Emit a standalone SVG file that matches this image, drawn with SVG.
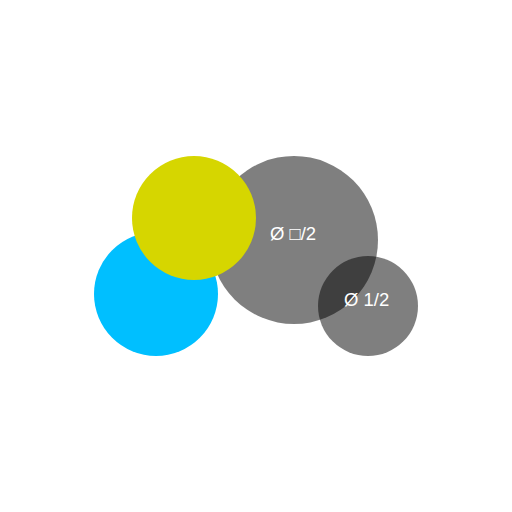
<svg xmlns="http://www.w3.org/2000/svg" width="512" height="512" viewBox="0 0 512 512">
<style>
.g{fill:#000;fill-opacity:0.5}
.t{fill:#fff;font-family:"Liberation Sans",Arial,sans-serif;font-size:18.5px}
</style>
<rect width="512" height="512" fill="#fff"/>
<g id="big"><circle class="g" cx="294" cy="240" r="84"/><text class="t" x="270" y="240">Ø □/2</text></g>
<g id="small"><circle class="g" cx="368" cy="306" r="50"/><text class="t" x="344" y="305.5">Ø 1/2</text></g>
<g id="blue"><circle cx="156" cy="294" r="62" fill="#00bfff"/></g>
<g id="yellow"><circle cx="194" cy="218" r="62" fill="#d6d600"/></g>
<g id="connectors"/>
</svg>
